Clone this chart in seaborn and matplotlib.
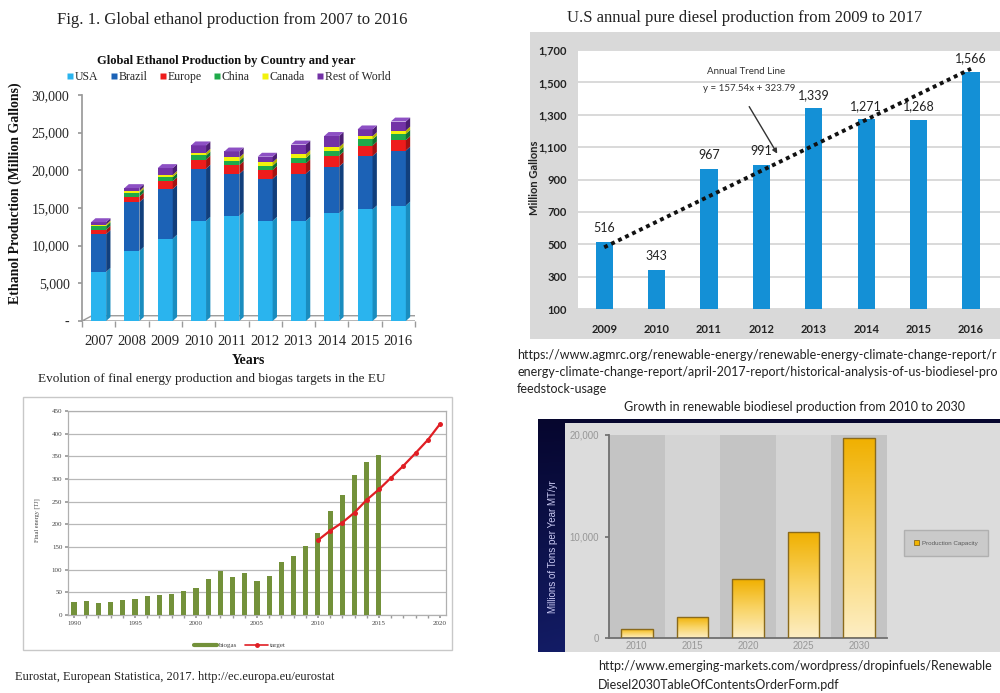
import numpy as np
import matplotlib
matplotlib.use("Agg")
import matplotlib.pyplot as plt
import seaborn as sns
from matplotlib.patches import Polygon, Rectangle, Patch
from matplotlib.lines import Line2D
from matplotlib.colors import LinearSegmentedColormap
from matplotlib.ticker import FuncFormatter

# ---------------- data ----------------
# Global ethanol production by country (million gallons)
eth_years = ["2007", "2008", "2009", "2010", "2011", "2012", "2013", "2014", "2015", "2016"]
eth_usa = [6521, 9309, 10938, 13298, 13948, 13300, 13300, 14313, 14807, 15329]
eth_brazil = [5019, 6472, 6578, 6922, 5573, 5577, 6267, 6190, 7093, 7295]
eth_europe = [570, 734, 1040, 1209, 1168, 1179, 1371, 1445, 1387, 1377]
eth_china = [486, 502, 542, 542, 555, 555, 696, 635, 813, 845]
eth_canada = [211, 238, 291, 357, 462, 449, 523, 510, 436, 436]
eth_row = [315, 389, 914, 985, 800, 752, 1272, 1470, 900, 1200]
eth_names = ["USA", "Brazil", "Europe", "China", "Canada", "Rest of World"]

# U.S. annual pure diesel production (million gallons)
dsl_years = ["2009", "2010", "2011", "2012", "2013", "2014", "2015", "2016"]
dsl_values = [516, 343, 967, 991, 1339, 1271, 1268, 1566]

# EU biogas final energy (TJ) and targets
eu_years = [str(y) for y in range(1990, 2021)]
biogas_years = [str(y) for y in range(1990, 2016)]
biogas_values = [28, 30, 27, 29, 33, 36, 41, 44, 47, 53, 59, 79, 96, 83, 93, 76,
                 86, 117, 131, 153, 181, 229, 265, 308, 338, 352]
target_years = [str(y) for y in range(2010, 2021)]
target_values = [165, 186, 204, 226, 254, 277, 303, 329, 357, 386, 421]

# Renewable biodiesel production capacity (millions of tons per year)
bd_years = ["2010", "2015", "2020", "2025", "2030"]
bd_values = [900, 2100, 5800, 10400, 19700]

# ---------------- style ----------------
sns.set_theme(style="white")
SERIF = ["Liberation Serif", "DejaVu Serif"]
SANS = ["Lato", "DejaVu Sans"]
ARIAL = ["Liberation Sans", "DejaVu Sans"]
plt.rcParams["font.family"] = SERIF

W, H = 1000, 693
fig = plt.figure(figsize=(10, 6.93), dpi=100)
fig.patch.set_facecolor("white")


def fx(px):
    return px / W


def fy(py):
    return 1 - py / H


def box(l, t, r, b):
    return [l / W, 1 - b / H, (r - l) / W, (b - t) / H]


# background layer for panel frames (pixel coordinates)
bg = fig.add_axes([0, 0, 1, 1])
bg.set_zorder(-5)
bg.axis("off")
navy = LinearSegmentedColormap.from_list("navy", ["#06062e", "#1b2a88"])
grad = np.linspace(0, 1, 200)[:, None] * np.linspace(0.6, 1, 200)[None, :]
bg.imshow(grad, extent=(538, 1000, 652, 419), cmap=navy, aspect="auto", zorder=1)
bg.add_patch(Rectangle((565, 423), 440, 229, facecolor="#dcdcdc", edgecolor="none", zorder=2))
bg.add_patch(Rectangle((530, 32), 480, 307, facecolor="#d9d9d9", edgecolor="none", zorder=2))
bg.add_patch(Rectangle((23, 397), 429, 253, facecolor="white", edgecolor="#c8c8c8", lw=1, zorder=2))
bg.set_xlim(0, W)
bg.set_ylim(H, 0)

# ================= Panel 1: ethanol stacked bars =================
fig.text(fx(232), fy(20), "Fig. 1. Global ethanol production from 2007 to 2016",
         ha="center", va="center", fontsize=12, color="#222")
fig.text(fx(226), fy(61), "Global Ethanol Production by Country and year",
         ha="center", va="center", fontsize=9, fontweight="bold", color="#111")

ax1 = fig.add_axes(box(82, 95, 415, 321))
ax1.set_facecolor("none")
front = ["#2ab4ee", "#1c62b6", "#ee1c1c", "#1faa4a", "#f2f20c", "#7332a6"]
side = ["#1a8dbf", "#113f7c", "#a31212", "#12702f", "#b3b300", "#4b1d72"]
series = np.array([eth_usa, eth_brazil, eth_europe, eth_china, eth_canada, eth_row])
cum = np.cumsum(series, axis=0)
bw = 0.45
for k in reversed(range(len(series))):
    sns.barplot(x=eth_years, y=cum[k], color=front[k], width=bw, saturation=1,
                errorbar=None, linewidth=0, ax=ax1)

# floor of the 3D chart
dx, dy = 0.13, 520
ax1.add_patch(Polygon([(-0.5, 0), (9.5, 0), (9.5 + 0.3, 700), (-0.5 + 0.3, 700)],
                      closed=True, facecolor="white", edgecolor="#9a9a9a", lw=1, zorder=0.5))
# side and top faces of each stacked segment
for i in range(len(eth_years)):
    xr = i + bw / 2
    xl = i - bw / 2
    for k in range(len(series)):
        y0 = 0 if k == 0 else cum[k - 1][i]
        y1 = cum[k][i]
        ax1.add_patch(Polygon([(xr, y0), (xr + dx, y0 + dy), (xr + dx, y1 + dy), (xr, y1)],
                              closed=True, facecolor=side[k], edgecolor="none", zorder=2))
    ytop = cum[-1][i]
    ax1.add_patch(Polygon([(xl, ytop), (xr, ytop), (xr + dx, ytop + dy), (xl + dx, ytop + dy)],
                          closed=True, facecolor="#8d50c4", edgecolor="none", zorder=2))

ax1.set_xlim(-0.5, 9.5)
ax1.set_ylim(0, 30000)
ax1.set_yticks(range(0, 30001, 5000))
ax1.yaxis.set_major_formatter(FuncFormatter(lambda v, p: "-" if v == 0 else f"{int(v):,}"))
for s in ["top", "right", "bottom"]:
    ax1.spines[s].set_visible(False)
ax1.spines["left"].set_color("#9a9a9a")
ax1.tick_params(axis="y", labelsize=10, length=3, color="#9a9a9a", pad=6, left=True)
ax1.tick_params(axis="x", which="major", labelsize=10.5, length=0, pad=10)
ax1.set_xticks(np.arange(-0.5, 10, 1), minor=True)
ax1.tick_params(axis="x", which="minor", length=4, color="#9a9a9a", bottom=True)
ax1.set_xlabel("")
ax1.set_ylabel("")
fig.text(fx(15), fy(193), "Ethanol Production (Million Gallons)", rotation=90,
         ha="center", va="center", fontsize=10, fontweight="bold", color="#111")
fig.text(fx(248), fy(361), "Years", ha="center", va="center", fontsize=10,
         fontweight="bold", color="#111")
eth_handles = [Line2D([], [], marker="s", linestyle="none", markersize=4.2,
                      markerfacecolor=c, markeredgecolor="none") for c in front]
fig.legend(eth_handles, eth_names, loc="center", bbox_to_anchor=(fx(228), fy(77)),
           ncol=6, frameon=False, fontsize=8.5, handletextpad=0.0, columnspacing=0.9,
           handlelength=0.8, borderaxespad=0)

# ================= Panel 2: US diesel bars =================
fig.text(fx(745), fy(18), "U.S annual pure diesel production from 2009 to 2017",
         ha="center", va="center", fontsize=12, color="#222")
ax2 = fig.add_axes(box(578, 50, 578 + 9 * 52.4, 309))
ax2.set_facecolor("white")
sns.barplot(x=dsl_years, y=dsl_values, color="#1490d6", width=0.33, saturation=1,
            errorbar=None, linewidth=0, ax=ax2, zorder=3)
ax2.set_xlim(-0.5, 8.5)
ax2.set_ylim(100, 1700)
ax2.set_yticks(range(100, 1701, 200))
ax2.yaxis.set_major_formatter(FuncFormatter(lambda v, p: f"{int(v):,}"))
ax2.grid(axis="y", color="#d9d9d9", lw=1.4)
ax2.set_axisbelow(True)
for s in ax2.spines.values():
    s.set_visible(False)
ax2.tick_params(axis="both", length=0, labelsize=8)
ax2.tick_params(axis="y", pad=8)
ax2.tick_params(axis="x", pad=11)
for lab in ax2.get_xticklabels() + ax2.get_yticklabels():
    lab.set_fontfamily(SANS)
    lab.set_fontweight("bold")
    lab.set_color("#222")
ax2.set_xlabel("")
ax2.set_ylabel("")
for i, v in enumerate(dsl_values):
    ax2.text(i, v + 45, f"{v:,}", ha="center", va="bottom", fontsize=9,
             family=SANS, color="#222")
# linear trend through the yearly values
xs = np.arange(1, len(dsl_values) + 1)
slope, intercept = np.polyfit(xs, dsl_values, 1)
ax2.plot(xs - 1, slope * xs + intercept, linestyle=(0, (1, 1)), lw=2.8,
         color="#111", zorder=4)
ax2.text(1.96, 1568, "Annual Trend Line", fontsize=7, family=SANS, color="#333",
         ha="left", va="center")
ax2.text(1.88, 1462, "y = 157.54x + 323.79", fontsize=7, family=SANS, color="#333",
         ha="left", va="center")
ax2.annotate("", xy=(3.33, 1045), xytext=(2.74, 1365),
             arrowprops=dict(arrowstyle="-|>", color="#333", lw=1, mutation_scale=7))
fig.text(fx(535), fy(178), "Million Gallons", rotation=90, ha="center", va="center",
         fontsize=8, fontweight="bold", family=SANS, color="#222")
for j, line in enumerate([
        "https://www.agmrc.org/renewable-energy/renewable-energy-climate-change-report/r",
        "energy-climate-change-report/april-2017-report/historical-analysis-of-us-biodiesel-pro",
        "feedstock-usage"]):
    fig.text(fx(517), fy(355 + 17 * j), line, ha="left", va="center", fontsize=9,
             family=SANS, color="#222")

# ================= Panel 3: EU biogas =================
fig.text(fx(212), fy(379), "Evolution of final energy production and biogas targets in the EU",
         ha="center", va="center", fontsize=9.5, color="#222")
ax3 = fig.add_axes(box(67.9, 411, 446, 615))
ax3.set_facecolor("white")
sns.barplot(x=biogas_years, y=biogas_values, order=eu_years, color="#73913a", width=0.42,
            saturation=1, errorbar=None, linewidth=0, ax=ax3, zorder=3)
target_pos = [eu_years.index(y) for y in target_years]
ax3.plot(target_pos, target_values, color="#e01e24", lw=1.6, marker="o", markersize=3.6,
         markeredgewidth=0, zorder=4)
ax3.set_xlim(-0.5, len(eu_years) - 0.5)
ax3.set_ylim(0, 450)
ax3.set_yticks(range(0, 451, 50))
ax3.grid(axis="y", color="#b8b8b8", lw=0.9)
ax3.set_axisbelow(True)
for s in ax3.spines.values():
    s.set_color("#b0b0b0")
    s.set_linewidth(0.9)
ax3.set_xticks(range(0, len(eu_years), 5))
ax3.set_xticklabels(eu_years[::5])
ax3.set_xticks(range(len(eu_years)), minor=True)
ax3.tick_params(axis="both", which="major", labelsize=5, labelcolor="#444", length=2,
                color="#999", pad=2)
ax3.tick_params(axis="x", which="minor", length=2, color="#999", bottom=True)
ax3.tick_params(axis="y", left=True)
ax3.tick_params(axis="x", bottom=True)
ax3.set_xlabel("")
ax3.set_ylabel("")
fig.text(fx(37), fy(520), "Final energy [TJ]", rotation=90, ha="center", va="center",
         fontsize=4.5, color="#444")
eu_handles = [Line2D([], [], color="#73913a", lw=3),
              Line2D([], [], color="#e01e24", lw=1.2, marker="o", markersize=2.5)]
fig.legend(eu_handles, ["biogas", "target"], loc="center", bbox_to_anchor=(fx(240), fy(645)),
           ncol=2, frameon=False, fontsize=5, handlelength=3.2, handletextpad=0.3,
           columnspacing=1.2, borderaxespad=0, labelcolor="#444")
fig.text(fx(15), fy(677), "Eurostat, European Statistica, 2017. http://ec.europa.eu/eurostat",
         ha="left", va="center", fontsize=9, color="#222")

# ================= Panel 4: renewable biodiesel capacity =================
fig.text(fx(795), fy(407), "Growth in renewable biodiesel production from 2010 to 2030",
         ha="center", va="center", fontsize=9, family=SANS, color="#222")
ax4 = fig.add_axes(box(609, 435, 887, 638))
ax4.set_facecolor("none")
for i in range(len(bd_years)):
    ax4.axvspan(i - 0.5, i + 0.5, color="#c4c4c4" if i % 2 == 0 else "#d4d4d4",
                zorder=0, lw=0)
n_before = len(ax4.patches)
sns.barplot(x=bd_years, y=bd_values, color="#f2b500", width=0.57, saturation=1,
            errorbar=None, linewidth=1, edgecolor="#8a6a1c", ax=ax4, zorder=3)
bars = ax4.patches[n_before:]
gold = LinearSegmentedColormap.from_list("gold", ["#fdeec4", "#f9d466", "#f0b000"])
vgrad = np.linspace(0, 1, 256)[:, None]
for b in bars:
    x0, y0 = b.get_x(), b.get_y()
    w, h = b.get_width(), b.get_height()
    b.set_facecolor("none")
    im = ax4.imshow(vgrad, extent=(x0, x0 + w, y0, y0 + h), origin="lower",
                    cmap=gold, aspect="auto", zorder=2.5)
    im.set_clip_path(b)
ax4.set_xlim(-0.5, len(bd_years) - 0.5)
ax4.set_ylim(0, 20000)
ax4.set_yticks([0, 10000, 20000])
ax4.yaxis.set_major_formatter(FuncFormatter(lambda v, p: f"{int(v):,}"))
for s in ["top", "right"]:
    ax4.spines[s].set_visible(False)
for s in ["left", "bottom"]:
    ax4.spines[s].set_color("#707070")
    ax4.spines[s].set_linewidth(1.3)
ax4.tick_params(axis="both", labelsize=7, labelcolor="#979797", length=3, color="#707070")
ax4.tick_params(axis="x", length=0, pad=2)
ax4.tick_params(axis="y", left=True, pad=4)
for lab in ax4.get_xticklabels() + ax4.get_yticklabels():
    lab.set_fontfamily(ARIAL)
ax4.set_xlabel("")
ax4.set_ylabel("")
fig.text(fx(553), fy(547), "Millions of Tons per Year MT/yr", rotation=90, ha="center",
         va="center", fontsize=7, family=ARIAL, color="#c9c9f2")
leg4 = ax4.legend(handles=[Patch(facecolor="#f2b500", edgecolor="#8a6a1c", lw=0.6,
                                 label="Production Capacity")],
                  loc="center", bbox_to_anchor=(fx(946), fy(543)),
                  bbox_transform=fig.transFigure, fontsize=4.5, frameon=True,
                  handlelength=0.8, handleheight=0.9, handletextpad=0.5,
                  borderpad=1.6, fancybox=False, labelcolor="#5a5a5a")
leg4.get_frame().set_facecolor("#c6c6c6")
leg4.get_frame().set_edgecolor("#a8a8a8")
for t in leg4.get_texts():
    t.set_fontfamily(ARIAL)
fig.text(fx(598), fy(666), "http://www.emerging-markets.com/wordpress/dropinfuels/Renewable",
         ha="left", va="center", fontsize=9, family=SANS, color="#222")
fig.text(fx(598), fy(685), "Diesel2030TableOfContentsOrderForm.pdf",
         ha="left", va="center", fontsize=9, family=SANS, color="#222")

fig.savefig("out.png", dpi=100, facecolor="white")
